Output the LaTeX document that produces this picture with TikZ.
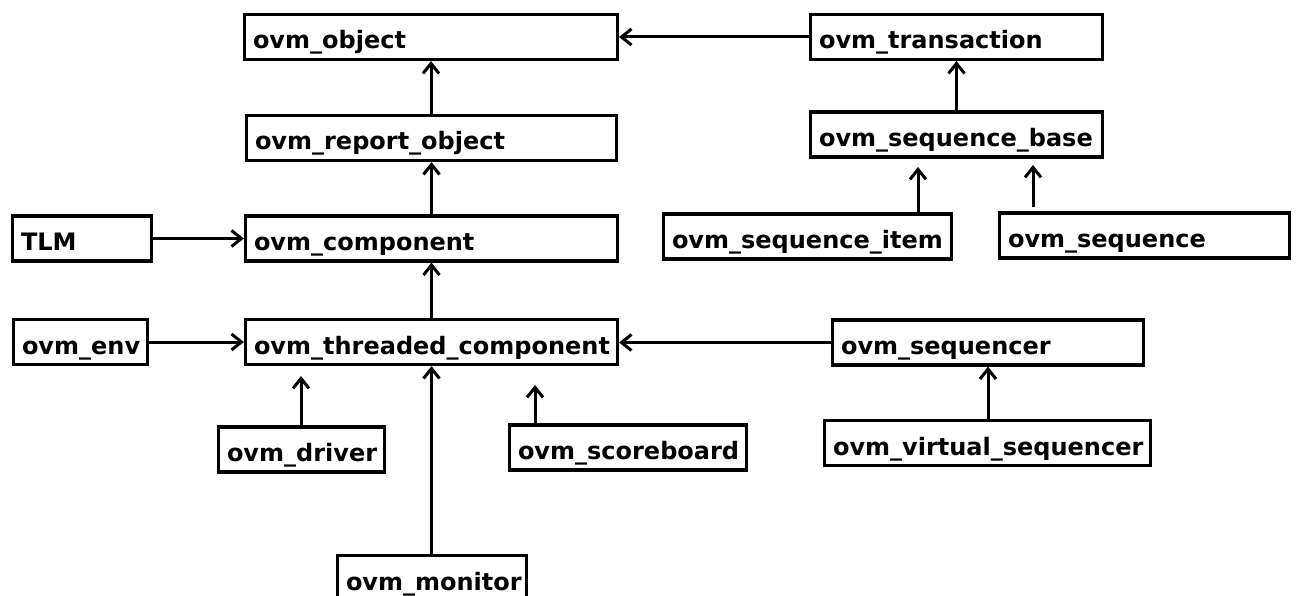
\documentclass[tikz,border=0pt]{standalone}
\usepackage{fontspec}
\setmainfont{DejaVu Sans}
\usetikzlibrary{arrows.meta}
\begin{document}
\begin{tikzpicture}[x=1pt,y=-1pt,
  cls/.style 2 args={draw=black, line width=3.2pt, minimum width=#1pt, minimum height=45pt,
    text width=#2pt, align=left, inner xsep=8.5pt, inner ysep=0pt,
    text height=24pt, text depth=0pt,
    font=\bfseries\fontsize{24}{28}\selectfont},
  inh/.style={line width=3pt, -{Straight Barb[length=10pt,width=16pt]}}]
\useasboundingbox[fill=white] (0,0) rectangle (1297,596);

\node[cls={373}{356}] (obj) at (431,37) {ovm\_object};
\node[cls={292}{275}] (trans) at (956.5,37) {ovm\_transaction};
\node[cls={370}{353}] (rep) at (431.5,138) {ovm\_report\_object};
\node[cls={292}{275}] (seqbase) at (956.5,134.5) {ovm\_sequence\_base};
\node[cls={139}{122}] (tlm) at (82,238.5) {TLM};
\node[cls={372}{355}] (comp) at (431.5,238.5) {ovm\_component};
\node[cls={288}{271}] (seqitem) at (807.5,236.5) {ovm\_sequence\_item};
\node[cls={290}{273}] (seq) at (1144.5,235.5) {ovm\_sequence};
\node[cls={134}{117}] (env) at (80.5,342) {ovm\_env};
\node[cls={372}{355}] (thr) at (431.5,342) {ovm\_threaded\_component};
\node[cls={311}{294}] (sqr) at (988,342.5) {ovm\_sequencer};
\node[cls={166}{149}] (drv) at (301.5,449.5) {ovm\_driver};
\node[cls={237}{220}] (sb) at (628,447.5) {ovm\_scoreboard};
\node[cls={326}{309}] (vs) at (987.5,443) {ovm\_virtual\_sequencer};
\node[cls={189}{172}] (mon) at (432,578) {ovm\_monitor};

\coordinate (drvTip) at (301,376);
\coordinate (sbTip) at (535,385);
\coordinate (siTip) at (918,167);
\coordinate (seqTip) at (1033,165);
\coordinate (seqTail) at (1033,207);

\draw[inh] (rep.north -| obj.south) -- (obj.south);
\draw[inh] (comp.north -| rep.south) -- (rep.south);
\draw[inh] (thr.north -| comp.south) -- (comp.south);
\draw[inh] (mon.north -| thr.south) -- (thr.south);
\draw[inh] (tlm.east) -- (tlm.east -| comp.west);
\draw[inh] (env.east) -- (env.east -| thr.west);
\draw[inh] (trans.west) -- (trans.west -| obj.east);
\draw[inh] (sqr.west) -- (sqr.west -| thr.east);
\draw[inh] (seqbase.north -| trans.south) -- (trans.south);
\draw[inh] (vs.north -| sqr.south) -- (sqr.south);
\draw[inh] (drv.north -| drvTip) -- (drvTip);
\draw[inh] (sb.north -| sbTip) -- (sbTip);
\draw[inh] (seqitem.north -| siTip) -- (siTip);
\draw[inh] (seqTail) -- (seqTip);
\end{tikzpicture}
\end{document}
